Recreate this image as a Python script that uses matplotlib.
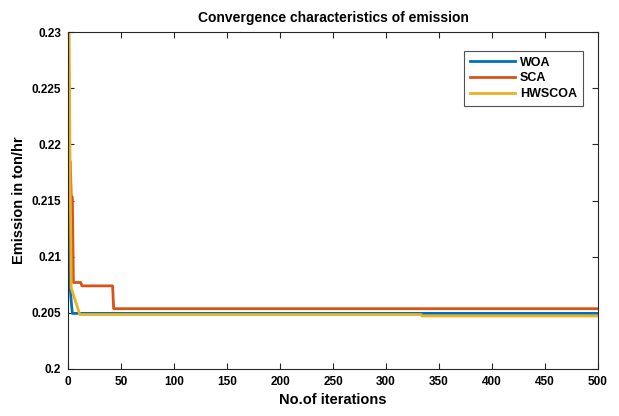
import matplotlib.pyplot as plt
import numpy as np

# convergence curves (iteration, emission)
woa_iter = [1, 2, 3, 4, 500]
woa_val = [0.2164, 0.2072, 0.2060, 0.20495, 0.20495]

sca_iter = [1, 2, 3, 4, 5, 12, 13, 42, 43, 500]
sca_val = [0.2185, 0.2185, 0.2153, 0.2153, 0.2077, 0.2077, 0.2074, 0.2074, 0.20537, 0.20537]

hws_iter = [1, 2, 3, 11, 333, 334, 500]
hws_val = [0.2300, 0.2163, 0.2072, 0.20485, 0.20485, 0.20472, 0.20472]

plt.rcParams['font.family'] = ['Liberation Sans', 'DejaVu Sans']
plt.rcParams['font.weight'] = 'bold'

fig = plt.figure(figsize=(6.19, 4.16), dpi=100)
ax = fig.add_axes([0.110, 0.113, 0.856, 0.810])

ax.plot(woa_iter, woa_val, color='#0072BD', lw=2, label='WOA')
ax.plot(sca_iter, sca_val, color='#D95319', lw=2, label='SCA')
ax.plot(hws_iter, hws_val, color='#EDB120', lw=2, label='HWSCOA')

ax.set_xlim(0, 500)
ax.set_ylim(0.2, 0.23)
ax.set_xticks(np.arange(0, 501, 50))
yt = [0.2, 0.205, 0.21, 0.215, 0.22, 0.225, 0.23]
ax.set_yticks(yt)
ax.set_yticklabels(['0.2', '0.205', '0.21', '0.215', '0.22', '0.225', '0.23'])
ax.tick_params(direction='in', top=True, right=True, labelsize=8.5, length=4,
               color='#262626', width=0.8, pad=5)
for s in ax.spines.values():
    s.set_color('#262626')
    s.set_linewidth(0.8)

ax.set_title('Convergence characteristics of emission', fontsize=10, fontweight='bold', pad=7)
ax.set_xlabel('No.of iterations', fontsize=10.5, fontweight='bold', labelpad=4)
ax.set_ylabel('Emission in ton/hr', fontsize=10.5, fontweight='bold', labelpad=4)

leg = ax.legend(loc='upper right', bbox_to_anchor=(0.983, 0.962), fontsize=9,
                fancybox=False, edgecolor='#262626', handlelength=3.6,
                borderpad=0.45, labelspacing=0.3, handletextpad=0.4)
leg.get_frame().set_linewidth(0.8)

fig.savefig('out.png', dpi=100)
